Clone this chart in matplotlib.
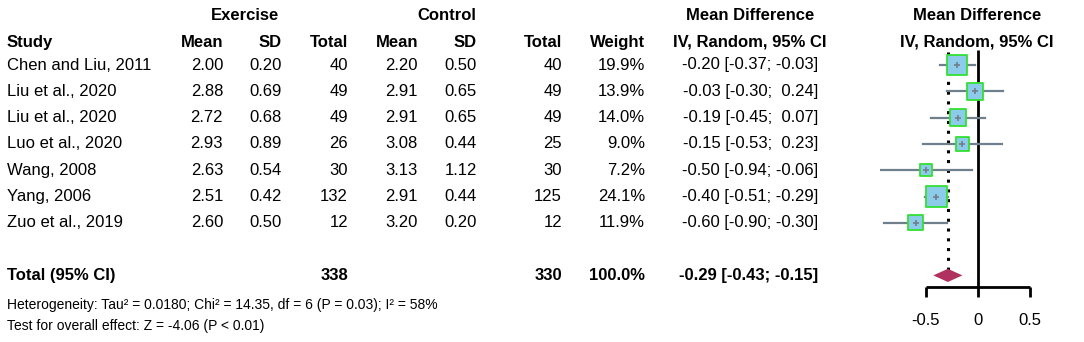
import matplotlib
matplotlib.use("Agg")
import matplotlib.pyplot as plt
import numpy as np

plt.rcParams['font.family'] = ['Liberation Sans', 'DejaVu Sans']

# data
studies = ["Chen and Liu, 2011", "Liu et al., 2020", "Liu et al., 2020", "Luo et al., 2020",
           "Wang, 2008", "Yang, 2006", "Zuo et al., 2019"]
ex_mean = [2.00, 2.88, 2.72, 2.93, 2.63, 2.51, 2.60]
ex_sd = [0.20, 0.69, 0.68, 0.89, 0.54, 0.42, 0.50]
ex_n = [40, 49, 49, 26, 30, 132, 12]
ct_mean = [2.20, 2.91, 2.91, 3.08, 3.13, 2.91, 3.20]
ct_sd = [0.50, 0.65, 0.65, 0.44, 1.12, 0.44, 0.20]
ct_n = [40, 49, 49, 25, 30, 125, 12]
weight = [19.9, 13.9, 14.0, 9.0, 7.2, 24.1, 11.9]
md = [-0.20, -0.03, -0.19, -0.15, -0.50, -0.40, -0.60]
lo = [-0.37, -0.30, -0.45, -0.53, -0.94, -0.51, -0.90]
hi = [-0.03, 0.24, 0.07, 0.23, -0.06, -0.29, -0.30]
pooled = (-0.29, -0.43, -0.15)
tot_ex, tot_ct = 338, 330
xticks = [-0.5, 0, 0.5]
heterog = "Heterogeneity: Tau\u00b2 = 0.0180; Chi\u00b2 = 14.35, df = 6 (P = 0.03); I\u00b2 = 58%"
overall = "Test for overall effect: Z = -4.06 (P < 0.01)"

W, H = 1084, 342
fig = plt.figure(figsize=(W / 100, H / 100), dpi=100)
fig.patch.set_facecolor("white")

# rows: y in row units, row 0 = first study
row0_px, row_px = 65, 26.3
ytop = -row0_px / row_px
ybot = (H - row0_px) / row_px

tab = fig.add_axes([0, 0, 1, 1])
tab.set_xlim(0, W)
tab.set_ylim(ybot, ytop)
tab.axis("off")

fa = fig.add_axes([880 / W, 0, 204 / W, 1])
x0_px, unit_px = 978, 104
fa.set_xlim((880 - x0_px) / unit_px, (W - x0_px) / unit_px)
fa.set_ylim(ybot, ytop)
fa.axis("off")
fa.patch.set_alpha(0)

fs = 12
hdr1, hdr2 = -1.9, -0.87
tab.text(245, hdr1, "Exercise", ha="center", va="center", fontsize=fs, fontweight="bold")
tab.text(447, hdr1, "Control", ha="center", va="center", fontsize=fs, fontweight="bold")
tab.text(750, hdr1, "Mean Difference", ha="center", va="center", fontsize=fs, fontweight="bold")
tab.text(977, hdr1, "Mean Difference", ha="center", va="center", fontsize=fs, fontweight="bold")
tab.text(7, hdr2, "Study", ha="left", va="center", fontsize=fs, fontweight="bold")
cols = [223, 282, 348, 418, 477, 562, 645]
for x, lab in zip(cols, ["Mean", "SD", "Total", "Mean", "SD", "Total", "Weight"]):
    tab.text(x, hdr2, lab, ha="right", va="center", fontsize=fs, fontweight="bold")
tab.text(750, hdr2, "IV, Random, 95% CI", ha="center", va="center", fontsize=fs, fontweight="bold")
tab.text(977, hdr2, "IV, Random, 95% CI", ha="center", va="center", fontsize=fs, fontweight="bold")

for i, s in enumerate(studies):
    vals = [f"{ex_mean[i]:.2f}", f"{ex_sd[i]:.2f}", f"{ex_n[i]}", f"{ct_mean[i]:.2f}",
            f"{ct_sd[i]:.2f}", f"{ct_n[i]}", f"{weight[i]:.1f}%"]
    tab.text(7, i, s, ha="left", va="center", fontsize=fs)
    for x, v in zip(cols, vals):
        tab.text(x, i, v, ha="right", va="center", fontsize=fs)
    hs = f"{hi[i]:.2f}".rjust(5)
    tab.text(818, i, f"{md[i]:.2f} [{lo[i]:.2f}; {hs}]", ha="right", va="center", fontsize=fs)

trow = len(studies) + 1
tab.text(7, trow, "Total (95% CI)", ha="left", va="center", fontsize=fs, fontweight="bold")
tab.text(348, trow, str(tot_ex), ha="right", va="center", fontsize=fs, fontweight="bold")
tab.text(562, trow, str(tot_ct), ha="right", va="center", fontsize=fs, fontweight="bold")
tab.text(645, trow, "100.0%", ha="right", va="center", fontsize=fs, fontweight="bold")
tab.text(818, trow, f"{pooled[0]:.2f} [{pooled[1]:.2f}; {pooled[2]:.2f}]", ha="right",
         va="center", fontsize=fs, fontweight="bold")
tab.text(7, 9.13, heterog, ha="left", va="center", fontsize=10)
tab.text(7, 9.92, overall, ha="left", va="center", fontsize=10)

# forest part
rows = np.arange(len(studies))
fa.plot([0, 0], [-0.57, 8.44], color="black", lw=2, solid_capstyle="butt")
fa.plot([pooled[0], pooled[0]], [-0.5, 7.8], color="black", lw=2.2, ls=(0, (1, 2.2)))
for i in rows:
    fa.plot([lo[i], hi[i]], [i, i], color="#6f7f8c", lw=1.6, zorder=2)
side_px = 4.4 * np.sqrt(weight)
fa.scatter(md, rows, marker="s", s=(side_px * 0.72) ** 2, facecolor="#8ccbe9",
           edgecolor="#33e033", linewidth=1.3, zorder=3)
fa.scatter(md, rows, marker="+", s=22, color="#6f7f8c", linewidth=1.2, zorder=4)
fa.fill([pooled[1], pooled[0], pooled[2], pooled[0]], [trow, trow - 0.25, trow, trow + 0.25],
        color="#b03060", zorder=3, lw=0)

# x axis drawn by hand like in the original
ax_y, tick_y = 8.44, 8.82
fa.plot([xticks[0], xticks[-1]], [ax_y, ax_y], color="black", lw=2, solid_capstyle="butt")
for t in xticks:
    fa.plot([t, t], [ax_y, tick_y], color="black", lw=2, solid_capstyle="butt")
    fa.text(t, 9.73, f"{t:g}", ha="center", va="center", fontsize=fs)

fig.savefig("out.png", dpi=100, facecolor="white")
